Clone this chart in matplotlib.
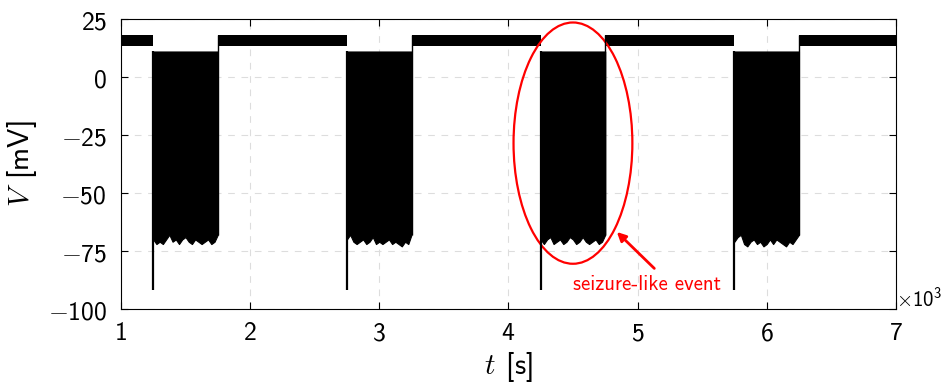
import numpy as np
import matplotlib
matplotlib.use("Agg")
import matplotlib.pyplot as plt
from matplotlib.patches import Ellipse
from matplotlib.ticker import FuncFormatter

plt.rcParams['mathtext.fontset'] = 'custom'
plt.rcParams['mathtext.rm'] = 'cmss10'
plt.rcParams['mathtext.sf'] = 'cmss10'
plt.rcParams['mathtext.it'] = 'cmmi10'
plt.rcParams['mathtext.fallback'] = 'cm'

# time window [ms] and burst (seizure-like event) intervals
t_start, t_stop = 1000, 7000
burst_on = [1250, 2750, 4250, 5750]
burst_off = [1750, 3250, 4750, 6250]
spike_floor = [-92, -92, -92, -92]

# resting band between bursts [mV]
quiet_lo, quiet_hi = 13.5, 18.3

# burst upper envelope [mV]
burst_top = 11.0

# lower envelope of each burst, read every 25 ms [mV]
burst_low = [
    [-70, -72, -71, -72, -70, -68, -71, -70, -72, -70, -69, -71, -72, -70, -71, -72, -71, -70, -72, -71, -68],
    [-70, -68, -71, -72, -71, -70, -72, -71, -69, -72, -71, -72, -71, -70, -72, -71, -72, -73, -71, -72, -68],
    [-70, -72, -70, -69, -72, -71, -70, -72, -71, -69, -70, -72, -71, -69, -71, -72, -71, -70, -72, -71, -68],
    [-71, -69, -68, -72, -73, -71, -70, -72, -71, -73, -72, -70, -72, -70, -71, -72, -73, -71, -72, -70, -68],
]

x_ticks = [1000, 2000, 3000, 4000, 5000, 6000, 7000]
y_ticks = [-100, -75, -50, -25, 0, 25]

fig = plt.figure(figsize=(9.52, 3.88), dpi=100)
ax = fig.add_axes([0.127, 0.2036, 0.814, 0.7474])

# quiet band segments
edges = [t_start] + [v for pair in zip(burst_on, burst_off) for v in pair] + [t_stop]
for a, b in zip(edges[0::2], edges[1::2]):
    ax.fill_between([a, b], quiet_lo, quiet_hi, color='black', lw=0)

# bursts
for on, off, low, floor in zip(burst_on, burst_off, burst_low, spike_floor):
    tt = np.linspace(on, off, len(low))
    ax.fill_between(tt, low, burst_top, color='black', lw=0.8, edgecolor='black')
    ax.vlines(on, floor, burst_top, color='black', lw=1.6)
    ax.vlines(off, low[-1], quiet_hi, color='black', lw=1.0)

ax.set_xlim(t_start, t_stop)
ax.set_ylim(-100, 25)
ax.set_xticks(x_ticks)
ax.set_yticks(y_ticks)
ax.xaxis.set_major_formatter(FuncFormatter(lambda v, p: r'$%d$' % round(v / 1000)))
ax.yaxis.set_major_formatter(FuncFormatter(lambda v, p: r'$%d$' % v))
ax.tick_params(direction='in', length=5, width=0.8, top=True, right=True, labelsize=18.5)
ax.tick_params(axis='x', pad=8)
ax.tick_params(axis='y', pad=10)
ax.grid(True, ls=(0, (6, 6)), color='#dddddd', lw=0.8)
ax.set_axisbelow(True)
for s in ax.spines.values():
    s.set_linewidth(0.8)

ax.set_xlabel(r'$t\;\,\mathrm{[s]}$', fontsize=21, labelpad=2)
ax.set_ylabel(r'$V\;\,\mathrm{[mV]}$', fontsize=21, labelpad=6)
ax.text(1.0, 0.035, r'$\times\mathrm{10^{3}}$', transform=ax.transAxes, fontsize=15, ha='left', va='center')

# highlight one event
ax.add_patch(Ellipse((4500, -28.5), 920, 104, fill=False, edgecolor='red', lw=1.6))
ax.text(5070, -89.5, 'seizure-like event', family='cmss10', color='red', fontsize=15, ha='center', va='center')
ax.annotate('', xy=(4840, -66.8), xytext=(5130, -82.5),
            arrowprops=dict(arrowstyle='-|>', color='red', lw=2, shrinkA=0, shrinkB=0, mutation_scale=13))

fig.savefig('out.png', dpi=100)
